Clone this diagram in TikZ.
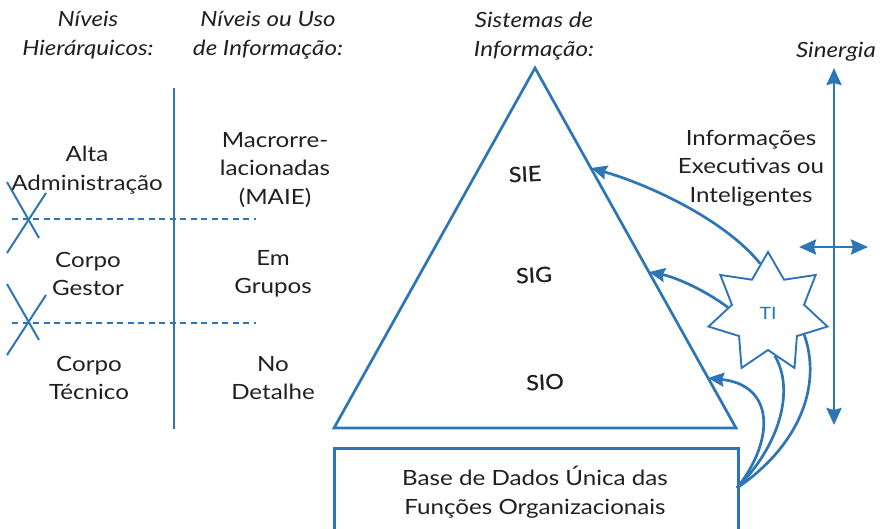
\documentclass[tikz,border=0pt]{standalone}
\usepackage{fontspec}
\setmainfont{Lato}[FakeStretch=1.15]
\newfontfamily\sysfont{Lato}[FakeStretch=1.1, FakeBold=0.8]
\usetikzlibrary{shapes.geometric,arrows.meta,calc}
\definecolor{ablue}{RGB}{46,117,182}
\definecolor{txt}{RGB}{35,31,32}
\begin{document}
\begin{tikzpicture}[x=1pt,y=-1pt,
  every node/.style={font=\fontsize{21}{28.5}\selectfont, text=txt, align=center, inner sep=0pt},
  head/.style={font=\fontsize{21}{28.5}\selectfont\itshape},
  sys/.style={font=\sysfont\fontsize{21}{28.5}\selectfont, rotate=3},
  bline/.style={draw=ablue, line width=2.7pt},
  thin/.style={draw=ablue, line width=2pt},
  dline/.style={draw=ablue, line width=2.3pt, dash pattern=on 6pt off 4.5pt},
  arr/.style={bline, -{Stealth[length=16pt,width=14pt,inset=2pt]}},
  darr/.style={bline, {Stealth[length=17pt,width=15pt,inset=2pt]}-{Stealth[length=17pt,width=15pt,inset=2pt]}}
]
\useasboundingbox (0,0) rectangle (882,528);

% headings
\node[head] (h1) at (88,35) {Níveis\\Hierárquicos:};
\node[head] (h2) at (268,35) {Níveis ou Uso\\de Informação:};
\node[head] (h3) at (534,36) {Sistemas de\\Informação:};
\node[head, anchor=east] (h4) at (876,52) {Sinergia};

% left column texts
\node (alta) at (87,170) {Alta\\Administração};
\node (macro) at (275,170) {Macrorre-\\lacionadas\\(MAIE)};
\node (cgest) at (88,274) {Corpo\\Gestor};
\node (grupos) at (273,274) {Em\\Grupos};
\node (ctec) at (89,378) {Corpo\\Técnico};
\node (detal) at (273,378) {No\\Detalhe};

% separators
\coordinate (vtop) at (174,88);
\coordinate (vbot) at (174,429);
\draw[bline] (vtop) -- (vbot);
\coordinate (d1a) at (12,219);
\coordinate (d1b) at (256,219);
\coordinate (d2a) at (12,323);
\coordinate (d2b) at (256,323);
\draw[dline] (d1a) -- (d1b);
\draw[dline] (d2a) -- (d2b);

% cut marks
\draw[thin] (7,182) -- (39,238);
\draw[thin] (46,193) -- (7,253);
\draw[thin] (7,284) -- (39,340);
\draw[thin] (46,295) -- (7,355);

% pyramid
\coordinate (apex) at (535,68);
\coordinate (tl) at (334,428);
\coordinate (tr) at (736,428);
\draw[bline, line join=miter] (apex) -- (tr) -- (tl) -- cycle;
\node[sys] (sie) at (525,174) {SIE};
\node[sys] (sig) at (534,275) {SIG};
\node[sys] (sio) at (545,382) {SIO};

% database box
\node[bline, draw, minimum width=404pt, minimum height=110pt, anchor=north west] (db) at (333,447) {};
\node (dbt) at (535,492) {Base de Dados Única das\\Funções Organizacionais};

% information text
\node (info) at (751,168) {Informações\\Executivas ou\\Inteligentes};

% synergy arrows
\coordinate (stop) at (834,68);
\coordinate (sbot) at (834,425);
\draw[darr] (sbot) -- (stop);
\coordinate (sl) at (799,247);
\coordinate (sr) at (868,247);
\draw[darr] (sl) -- (sr);

% TI star
\node[star, star points=7, star point ratio=1.65, minimum size=122pt, draw=ablue, line width=1.9pt, fill=white, text=ablue, font=\fontsize{17}{20}\selectfont] (ti) at (768,313) {TI};

% arrow ends on the pyramid
\coordinate (eie) at (591,168);
\coordinate (eig) at (649,272);
\coordinate (eio) at (708,378);
\coordinate (dbc) at (737,488);

\draw[arr] (ti.99) .. controls (725,220) and (650,185) .. (eie);
\draw[arr] (ti.172) .. controls (705,290) and (675,277) .. (eig);
\draw[arr] (dbc) .. controls (775,440) and (775,385) .. (eio);
\draw[bline] (dbc) .. controls (780,445) and (795,390) .. (ti.279);
\draw[bline] (dbc) .. controls (800,445) and (822,385) .. (ti.-31);
\end{tikzpicture}
\end{document}
